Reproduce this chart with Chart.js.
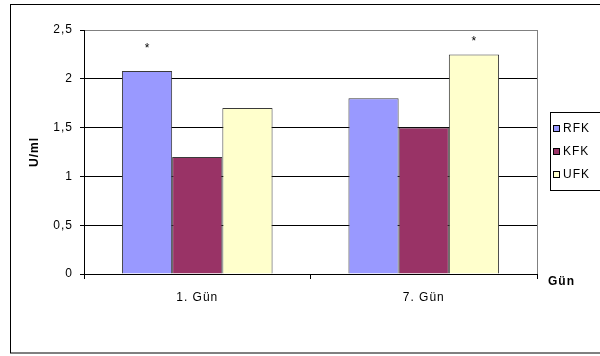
<!DOCTYPE html>
<html>
<head>
<meta charset="utf-8">
<script src="https://cdn.jsdelivr.net/npm/chart.js@4"></script>
<style>
  html, body { margin: 0; padding: 0; background: #fff; }
  canvas { display: block; }
</style>
</head>
<body>
<canvas id="chart" width="600" height="356"></canvas>
<script>
// Enzyme activity (U/ml) by day for each group
const days = ['1. Gün', '7. Gün'];
const seriesNames = ['RFK', 'KFK', 'UFK'];
const rfkValues = [2.08, 1.8];
const kfkValues = [1.2, 1.5];
const ufkValues = [1.7, 2.25];
const yTickLabels = ['0', '0,5', '1', '1,5', '2', '2,5'];
// Significance marks: [day index, series index, level on the U/ml axis]
const starMarks = [[0, 0, 2.35], [1, 2, 2.42]];

const FONT = '"Liberation Sans", Arial, sans-serif';

// Outer frame, white background, slightly widened lettering
const framePlugin = {
  id: 'frame',
  beforeDraw(chart) {
    const ctx = chart.ctx;
    ctx.save();
    ctx.fillStyle = '#fff';
    ctx.fillRect(0, 0, chart.width, chart.height);
    ctx.strokeStyle = '#000';
    ctx.lineWidth = 1;
    ctx.strokeRect(10.5, 4.5, chart.width, 348.5);
    ctx.restore();
    ctx.letterSpacing = '1px';
  },
  afterDraw(chart) {
    const ctx = chart.ctx;
    const area = chart.chartArea;
    // grey right edge of the plot area
    ctx.save();
    ctx.strokeStyle = '#808080';
    ctx.lineWidth = 1;
    ctx.beginPath();
    ctx.moveTo(Math.round(area.right) + 0.5, area.top);
    ctx.lineTo(Math.round(area.right) + 0.5, area.bottom);
    ctx.stroke();
    // x axis title to the right of the axis
    ctx.fillStyle = '#000';
    ctx.font = 'bold 12px ' + FONT;
    ctx.textAlign = 'left';
    ctx.textBaseline = 'middle';
    ctx.fillText('Gün', area.right + 11, area.bottom + 8);
    ctx.restore();
  }
};

// Asterisks above significant bars
const starPlugin = {
  id: 'stars',
  afterDatasetsDraw(chart) {
    const ctx = chart.ctx;
    const y = chart.scales.y;
    ctx.save();
    ctx.fillStyle = '#000';
    ctx.font = '12px ' + FONT;
    ctx.textAlign = 'center';
    ctx.textBaseline = 'alphabetic';
    starMarks.forEach(([d, s, level]) => {
      const bar = chart.getDatasetMeta(s).data[d];
      ctx.fillText('*', bar.x + 0.5, y.getPixelForValue(level) + 7);
    });
    ctx.restore();
  }
};

// Boxed legend on the right
const legendPlugin = {
  id: 'boxLegend',
  afterDraw(chart) {
    const ctx = chart.ctx;
    const area = chart.chartArea;
    const left = Math.round(area.right) + 13;
    const top = 112;
    ctx.save();
    ctx.strokeStyle = '#000';
    ctx.lineWidth = 1;
    ctx.strokeRect(left + 0.5, top + 0.5, 80, 78);
    ctx.font = '12px ' + FONT;
    ctx.textAlign = 'left';
    ctx.textBaseline = 'middle';
    chart.data.datasets.forEach((ds, i) => {
      const cy = top + 17 + i * 23;
      ctx.fillStyle = ds.backgroundColor;
      ctx.fillRect(left + 3, cy - 3, 6, 6);
      ctx.strokeStyle = '#000';
      ctx.strokeRect(left + 3.5, cy - 3.5, 6, 6);
      ctx.fillStyle = '#000';
      ctx.fillText(ds.label, left + 13, cy);
    });
    ctx.restore();
  }
};

new Chart(document.getElementById('chart'), {
  type: 'bar',
  data: {
    labels: days,
    datasets: [
      { label: seriesNames[0], data: rfkValues, backgroundColor: '#9999FF' },
      { label: seriesNames[1], data: kfkValues, backgroundColor: '#993366' },
      { label: seriesNames[2], data: ufkValues, backgroundColor: '#FFFFCC' }
    ]
  },
  options: {
    responsive: false,
    animation: false,
    devicePixelRatio: 1,
    layout: { padding: { top: 30, right: 63, left: 0, bottom: 0 } },
    datasets: {
      bar: {
        categoryPercentage: 0.665,
        barPercentage: 1,
        borderWidth: 1,
        borderColor: '#3a3a3a'
      }
    },
    plugins: {
      legend: { display: false },
      tooltip: { enabled: false }
    },
    scales: {
      x: {
        afterFit(scale) { scale.height = 82; },
        grid: {
          offset: true,
          drawOnChartArea: false,
          drawTicks: true,
          tickLength: 5,
          tickColor: '#000'
        },
        border: { display: true, color: '#000', width: 1 },
        ticks: {
          color: '#000',
          font: { family: FONT, size: 12 },
          padding: 11,
          maxRotation: 0
        }
      },
      y: {
        min: 0,
        max: 2.5,
        afterFit(scale) { scale.width = 84; },
        ticks: {
          stepSize: 0.5,
          color: '#000',
          font: { family: FONT, size: 12 },
          padding: 7,
          callback: (value, index) => yTickLabels[index]
        },
        grid: {
          color: ctx => (ctx.tick && ctx.tick.value === 2.5) ? '#808080' : '#000',
          tickColor: '#000',
          tickLength: 4,
          lineWidth: 1
        },
        border: { display: true, color: '#000', width: 1 },
        title: {
          display: true,
          text: 'U/ml',
          color: '#000',
          font: { family: FONT, size: 12, weight: 'bold' },
          padding: { top: 27, bottom: 0 }
        }
      }
    }
  },
  plugins: [framePlugin, starPlugin, legendPlugin]
});
</script>
</body>
</html>
